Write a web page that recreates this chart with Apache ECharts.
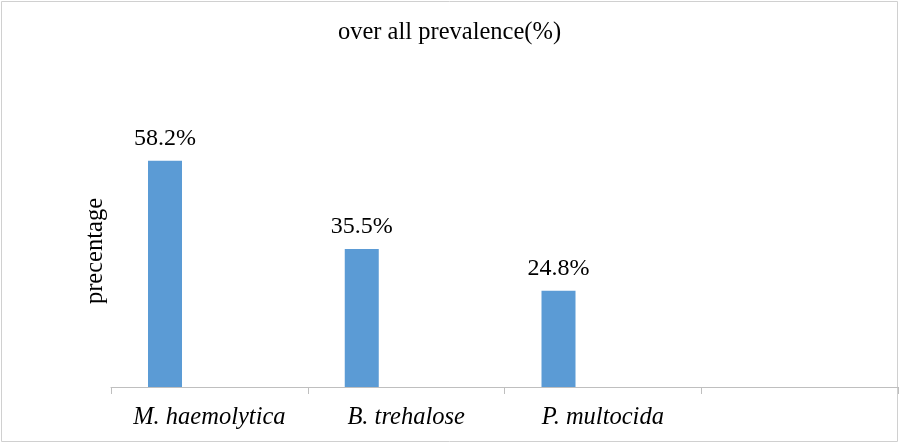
<!DOCTYPE html>
<html>
<head>
<meta charset="utf-8">
<script src="https://cdn.jsdelivr.net/npm/echarts@6/dist/echarts.min.js"></script>
<style>
html,body{margin:0;padding:0;background:#fff;}
#chart{width:899px;height:443px;}
</style>
</head>
<body>
<div id="chart"></div>
<script>
const categories = ['M. haemolytica', 'B. trehalose', 'P. multocida', ''];
const prevalence = [58.2, 35.5, 24.8, null];
const emptySeries = [null, null, null, null];
const titleText = 'over all prevalence(%)';
const yName = 'precentage';

const chart = echarts.init(document.getElementById('chart'));
const serif = '"Liberation Serif", "Times New Roman", serif';
chart.setOption({
  animation: false,
  backgroundColor: '#fff',
  title: {
    text: titleText,
    left: 'center',
    top: 15,
    textStyle: {fontFamily: serif, fontSize: 24.5, fontWeight: 'normal', color: '#000'}
  },
  graphic: [{
    type: 'rect',
    shape: {x: 1.5, y: 1.5, width: 896, height: 440},
    style: {fill: 'none', stroke: '#d0d0d0', lineWidth: 1},
    silent: true
  }],
  grid: {left: 111, right: 1, top: 115, bottom: 56},
  xAxis: {
    type: 'category',
    data: categories,
    axisLine: {lineStyle: {color: '#bfbfbf', width: 1}},
    axisTick: {show: true, interval: 0, length: 7, lineStyle: {color: '#bfbfbf'}},
    axisLabel: {interval: 0, hideOverlap: false, fontFamily: serif, fontSize: 24.5, fontStyle: 'italic', color: '#000', margin: 18}
  },
  yAxis: {
    type: 'value',
    min: 0,
    max: 70,
    name: yName,
    nameLocation: 'middle',
    nameRotate: 90,
    nameGap: 3,
    nameTextStyle: {fontFamily: serif, fontSize: 24.5, color: '#000'},
    axisLine: {show: false},
    axisTick: {show: false},
    axisLabel: {show: false},
    splitLine: {show: false}
  },
  series: [{
    type: 'bar',
    data: prevalence,
    barWidth: 34,
    barGap: '161%',
    itemStyle: {color: '#5b9bd5'},
    label: {
      show: true,
      position: 'top',
      distance: 10,
      formatter: p => p.value + '%',
      fontFamily: serif,
      fontSize: 24,
      color: '#000'
    }
  }, {
    type: 'bar',
    data: emptySeries,
    barWidth: 34,
    itemStyle: {color: '#ed7d31'}
  }]
});
</script>
</body>
</html>
